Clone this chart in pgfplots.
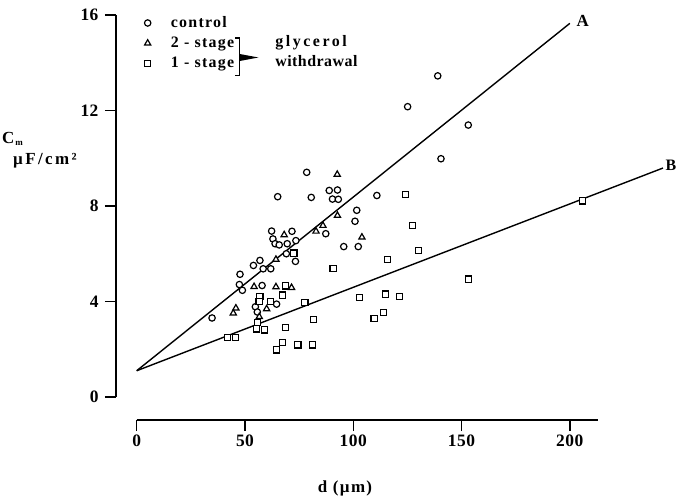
\documentclass[border=0pt]{standalone}
\usepackage{fontspec}
\setmainfont{Liberation Serif}
\newfontfamily\lab[LetterSpace=8]{Liberation Serif}
\newfontfamily\labw[LetterSpace=14]{Liberation Serif}
\newfontfamily\labg[LetterSpace=16]{Liberation Serif}
\newfontfamily\labt[LetterSpace=3]{Liberation Serif}
\usepackage{pgfplots}
\pgfplotsset{compat=1.18}
\begin{document}
\begin{tikzpicture}
\begin{axis}[
  scale only axis, width=461.3bp, height=382bp,
  xmin=0, xmax=213, ymin=0, ymax=16,
  axis x line*=bottom, axis y line*=left,
  separate axis lines,
  axis x line shift=23bp, axis y line shift=20.7bp,
  axis line style={line width=1.6bp, -},
  xtick={0,50,100,150,200}, ytick={0,4,8,12,16},
  tick align=outside, major tick length=11bp,
  tick style={line width=1.4bp, black},
  /pgf/number format/assume math mode=true,
  tick label style={font=\labt\bfseries\fontsize{17.5}{19}\selectfont},
  yticklabel style={xshift=-3bp},
  clip=false,
  legend cell align=left,
  legend style={at={(axis cs:3.5,16.02)}, anchor=north west, draw=none, fill=none,
    inner sep=0pt, row sep=4bp, font=\lab\bfseries\fontsize{16}{18}\selectfont,
    /tikz/every odd column/.append style={column sep=18bp}},
]
\coordinate (O) at (axis cs:0,0);
\addplot[black, line width=1.4bp, forget plot] coordinates {(0,1.1) (200,15.65)};
\addplot[black, line width=1.4bp, forget plot] coordinates {(0,1.1) (243,9.59)};
% control
\addplot[only marks, mark=*, mark size=3.2bp, mark options={draw=black, fill=white, line width=1.2bp}] coordinates {
(78.5,9.41) (65.1,8.39) (80.6,8.36) (88.9,8.65) (92.7,8.67) (90.4,8.29) (93.1,8.28)
(110.9,8.44) (101.6,7.82) (100.8,7.36) (87.3,6.84) (95.6,6.30) (102.3,6.30)
(62.3,6.95) (71.7,6.94) (62.9,6.62) (63.9,6.42) (65.8,6.37) (69.5,6.42) (73.5,6.55)
(69.1,6.00) (73.3,5.68) (53.9,5.51) (56.9,5.72) (58.4,5.37) (61.9,5.37)
(47.7,5.14) (47.4,4.71) (48.8,4.47) (57.9,4.67) (64.6,3.89) (54.8,3.78) (55.7,3.56)
(34.8,3.31) (139.0,13.45) (125.1,12.16) (153.1,11.39) (140.5,9.98)
};
\addlegendentry{control}
% 2-stage
\addplot[only marks, mark=triangle*, mark size=3.6bp, mark options={draw=black, fill=white, line width=1.2bp}] coordinates {
(92.6,9.32) (92.7,7.60) (86.0,7.18) (82.8,6.94) (104.0,6.69) (68.1,6.79) (64.3,5.76)
(54.2,4.62) (64.3,4.61) (71.5,4.58) (60.0,3.69) (56.6,3.36) (45.8,3.72) (44.6,3.51)
};
\addlegendentry{2 - stage}
% 1-stage
\addplot[only marks, mark=square*, mark size=3.1bp, mark options={draw=black, fill=white, line width=1.2bp}] coordinates {
(205.9,8.21) (124.0,8.49) (127.4,7.18) (130.0,6.13) (115.7,5.76) (90.7,5.37) (153.3,4.94)
(102.8,4.17) (115.0,4.31) (121.3,4.20) (109.6,3.29) (113.9,3.54) (72.6,6.03) (68.7,4.65)
(67.4,4.27) (56.9,4.20) (56.5,3.99) (61.9,3.99) (77.7,3.96) (81.6,3.25) (55.8,3.12)
(55.4,2.85) (58.9,2.81) (68.8,2.90) (41.8,2.48) (45.5,2.48) (67.2,2.29) (64.5,1.97)
(74.4,2.18) (81.1,2.18)
};
\addlegendentry{1 - stage}
% bracket
\draw[line width=1.2bp] (axis cs:45.6,15.04) -- (axis cs:47.4,15.04) -- (axis cs:47.4,13.45) -- (axis cs:45.6,13.45);
\fill (axis cs:47.4,14.07) -- (axis cs:47.4,14.37) -- (axis cs:56.2,14.22) -- cycle;
\node[anchor=base west, inner sep=0pt, font=\labg\bfseries\fontsize{16}{18}\selectfont] at (axis cs:63.9,14.66) {glycerol};
\node[anchor=base west, inner sep=0pt, font=\labt\bfseries\fontsize{16}{18}\selectfont] at (axis cs:63.9,13.85) {withdrawal};
% line labels
\node[anchor=west, font=\bfseries\fontsize{17}{19}\selectfont] at (axis cs:201.5,15.76) {A};
\node[anchor=west, inner sep=0pt, font=\bfseries\fontsize{16}{18}\selectfont] at (axis cs:244.1,9.70) {B};
% axis labels
\node[anchor=base west, inner sep=0pt, font=\lab\bfseries\fontsize{17}{19}\selectfont] at (axis cs:-62.2,10.6) {C\kern1bp\raisebox{-1.5bp}{\fontsize{9}{9}\selectfont m}};
\node[anchor=base west, inner sep=0pt, font=\labw\bfseries\fontsize{17}{19}\selectfont] at (axis cs:-57.1,9.72) {µF/cm²};
\node[anchor=base, inner sep=0pt, font=\lab\bfseries\fontsize{17}{19}\selectfont] at (axis cs:96.2,-4.02) {d (µm)};
\end{axis}
\pgfresetboundingbox
\path[use as bounding box] ([shift={(-136.7bp,-99bp)}]O) rectangle ([shift={(540.3bp,397bp)}]O);
\end{tikzpicture}
\end{document}
